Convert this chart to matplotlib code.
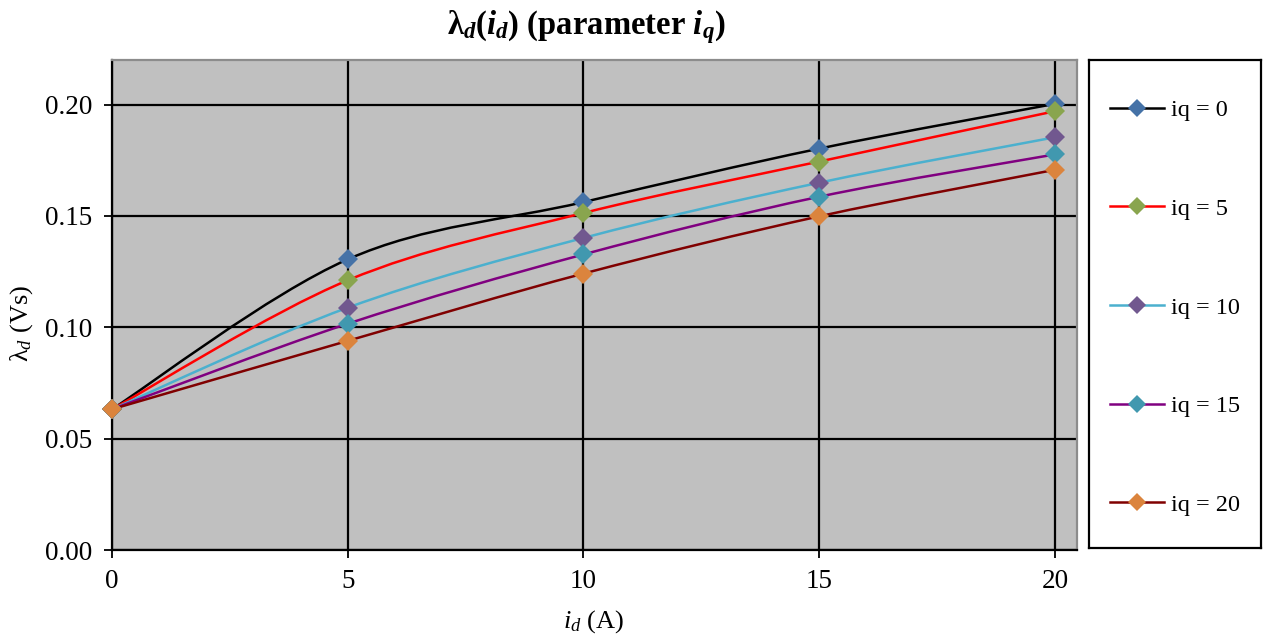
import numpy as np
import matplotlib
matplotlib.use("Agg")
import matplotlib.pyplot as plt
from matplotlib.path import Path
from matplotlib.patches import PathPatch
from matplotlib.lines import Line2D

plt.rcParams['font.family'] = ['Liberation Serif', 'DejaVu Serif']
plt.rcParams['mathtext.fontset'] = 'custom'
plt.rcParams['mathtext.rm'] = 'Liberation Serif'
plt.rcParams['mathtext.it'] = 'Liberation Serif:italic'
plt.rcParams['mathtext.bf'] = 'Liberation Serif:bold'
plt.rcParams['mathtext.bfit'] = 'Liberation Serif:bold:italic'

# ---- data ----
id_values = [0, 5, 10, 15, 20]
labels = ["iq = 0", "iq = 5", "iq = 10", "iq = 15", "iq = 20"]
lam_iq0 = [0.0632, 0.1305, 0.1562, 0.1802, 0.2003]
lam_iq5 = [0.0632, 0.1211, 0.1513, 0.1744, 0.1970]
lam_iq10 = [0.0632, 0.1088, 0.1401, 0.1649, 0.1853]
lam_iq15 = [0.0632, 0.1016, 0.1327, 0.1586, 0.1776]
lam_iq20 = [0.0632, 0.0939, 0.1241, 0.1498, 0.1707]
series = [lam_iq0, lam_iq5, lam_iq10, lam_iq15, lam_iq20]
x_ticks = [0, 5, 10, 15, 20]
y_ticks = [0.00, 0.05, 0.10, 0.15, 0.20]

line_colors = ["#000000", "#FF0000", "#4BB0CE", "#800080", "#800000"]
marker_colors = ["#4572A7", "#89A54E", "#71588F", "#4198AF", "#DB843D"]


def smooth_path(xs, ys):
    pts = np.column_stack([xs, ys]).astype(float)
    n = len(pts)
    verts = [pts[0]]
    codes = [Path.MOVETO]
    for i in range(n - 1):
        p0 = pts[i - 1] if i > 0 else pts[i]
        p1 = pts[i]
        p2 = pts[i + 1]
        p3 = pts[i + 2] if i + 2 < n else pts[i + 1]
        c1 = p1 + (p2 - p0) / 6.0
        c2 = p2 - (p3 - p1) / 6.0
        verts += [c1, c2, p2]
        codes += [Path.CURVE4] * 3
    return Path(verts, codes)


fig = plt.figure(figsize=(12.64, 6.42), dpi=100)
ax = fig.add_axes([112 / 1264, 92 / 642, (1077 - 112) / 1264, (550 - 60) / 642])
ax.set_facecolor("#C0C0C0")
ax.set_xlim(0, 20.47)
ax.set_ylim(0, 0.22)
ax.set_xticks(x_ticks)
ax.set_yticks(y_ticks)
ax.set_yticklabels([f"{v:.2f}" for v in y_ticks])
ax.grid(True, color="black", linewidth=1.6)
ax.set_axisbelow(True)
ax.tick_params(direction="out", length=6, width=1.3, labelsize=19.5, pad=8, color="black")
for s in ["left", "bottom"]:
    ax.spines[s].set_color("black")
    ax.spines[s].set_linewidth(1.6)
for s in ["top", "right"]:
    ax.spines[s].set_color("#8C8C8C")
    ax.spines[s].set_linewidth(1.6)

MS = 10.5
for ys, lc, mc in zip(series, line_colors, marker_colors):
    patch = PathPatch(smooth_path(id_values, ys), facecolor="none", edgecolor=lc,
                      linewidth=1.8, zorder=3)
    ax.add_patch(patch)
    ax.plot(id_values, ys, linestyle="none", marker="D", markersize=MS,
            markerfacecolor=mc, markeredgewidth=0, zorder=4, clip_on=False)

fig.text(586 / 1264, 1 - 27 / 642,
         r"$\mathbf{\lambda}_{\mathbfit{d}}$($\mathbfit{i}_{\mathbfit{d}}$) (parameter $\mathbfit{i}_{\mathbfit{q}}$)",
         ha="center", va="center", fontsize=23.5, fontweight="bold")
fig.text(22 / 1264, 1 - 323 / 642, r"$\mathrm{\lambda}_{d}$ (Vs)", rotation=90,
         ha="center", va="center", fontsize=19)
fig.text(594 / 1264, 1 - 622 / 642, r"$i_{d}$ (A)", ha="center", va="center", fontsize=19)

# legend box
lax = fig.add_axes([1089 / 1264, 94 / 642, (1261 - 1089) / 1264, (548 - 60) / 642])
lax.set_xticks([])
lax.set_yticks([])
lax.set_facecolor("white")
for s in lax.spines.values():
    s.set_color("black")
    s.set_linewidth(1.6)
handles = [Line2D([0], [0], color=lc, linewidth=1.8, marker="D", markersize=9,
                  markerfacecolor=mc, markeredgewidth=0)
           for lc, mc in zip(line_colors, marker_colors)]
lax.legend(handles, labels, loc="center", bbox_to_anchor=(0.5, 0.5 - 3.5 / 488),
           frameon=False, fontsize=17.5,
           labelspacing=3.15, handlelength=2.2, handletextpad=0.3)

fig.savefig("out.png", dpi=100)
